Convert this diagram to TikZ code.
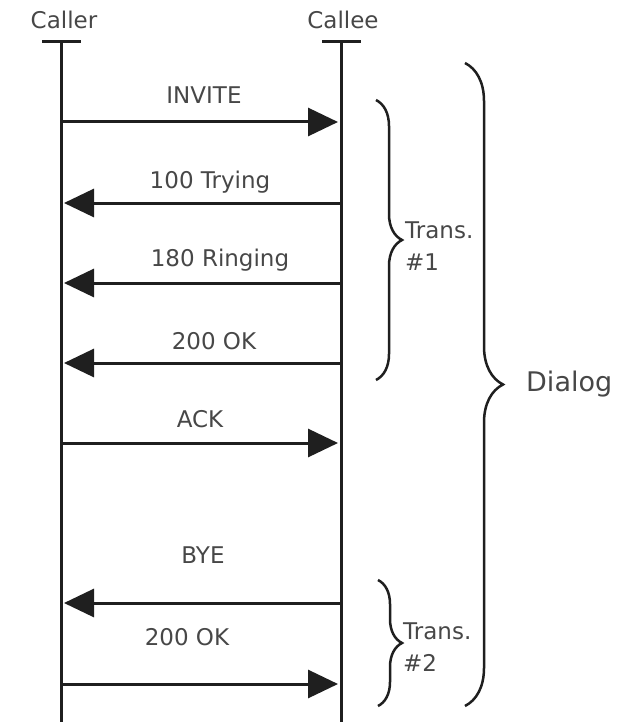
\documentclass[tikz,border=0pt]{standalone}
\usepackage{fontspec}
\setmainfont{DejaVu Sans}
\usetikzlibrary{positioning, arrows.meta, decorations.pathreplacing}

\begin{document}
\begin{tikzpicture}[
    x=1pt, y=-1pt,
    font=\fontsize{23}{32}\selectfont,
    txt/.style={text=black!72, inner sep=0pt},
    lifeline/.style={line width=3pt, draw=black!88},
    msg/.style={-{Triangle[length=30pt, width=28pt]}, line width=3pt, draw=black!88, shorten >=3pt},
    curly/.style={decorate, decoration={brace, amplitude=#1}, line width=2.5pt, draw=black!88}
]
\useasboundingbox (0,0) rectangle (631,722);

% Lifelines
\node[txt] (caller) at (64,20) {Caller};
\node[txt] (callee) at (343,20) {Callee};
\coordinate (callerTop) at (61,42);
\coordinate (calleeTop) at (341,42);
\coordinate (callerEnd) at (61,722);
\coordinate (calleeEnd) at (341,722);
\draw[lifeline] ([xshift=-19pt]callerTop) -- ([xshift=20pt]callerTop);
\draw[lifeline] ([xshift=-19pt]calleeTop) -- ([xshift=20pt]calleeTop);
\draw[lifeline] (callerTop) -- (callerEnd);
\draw[lifeline] (calleeTop) -- (calleeEnd);

% Message ends
\coordinate (a1) at (61,122);  \coordinate (b1) at (341,122);
\coordinate (a2) at (61,203);  \coordinate (b2) at (341,203);
\coordinate (a3) at (61,283);  \coordinate (b3) at (341,283);
\coordinate (a4) at (61,363);  \coordinate (b4) at (341,363);
\coordinate (a5) at (61,443);  \coordinate (b5) at (341,443);
\coordinate (a6) at (61,603);  \coordinate (b6) at (341,603);
\coordinate (a7) at (61,684);  \coordinate (b7) at (341,684);

% Messages
\draw[msg] (a1) -- (b1);
\draw[msg] (b2) -- (a2);
\draw[msg] (b3) -- (a3);
\draw[msg] (b4) -- (a4);
\draw[msg] (a5) -- (b5);
\draw[msg] (b6) -- (a6);
\draw[msg] (a7) -- (b7);

% Message labels
\node[txt, anchor=base] (invite) at (204,104) {INVITE};
\node[txt, anchor=base] (trying) at (210,188) {100 Trying};
\node[txt, anchor=base] (ringing) at (220,266) {180 Ringing};
\node[txt, anchor=base] (ok1) at (214,349) {200 OK};
\node[txt, anchor=base] (ack) at (200,427) {ACK};
\node[txt, anchor=base] (bye) at (203,563) {BYE};
\node[txt, anchor=base] (ok2) at (187,645) {200 OK};

% Braces
\draw[curly=26pt] (376,100) -- (376,380);
\draw[curly=24pt] (378,580) -- (378,706);
\draw[curly=38pt] (465,63) -- (465,706);
\node[txt, anchor=base west, align=left] (trans1) at (405,270) {Trans.\\\#1};
\node[txt, anchor=base west, align=left] (trans2) at (403,671) {Trans.\\\#2};
\node[txt, anchor=base west, font=\fontsize{27}{32}\selectfont] (dialog) at (526,391) {Dialog};
\end{tikzpicture}
\end{document}
